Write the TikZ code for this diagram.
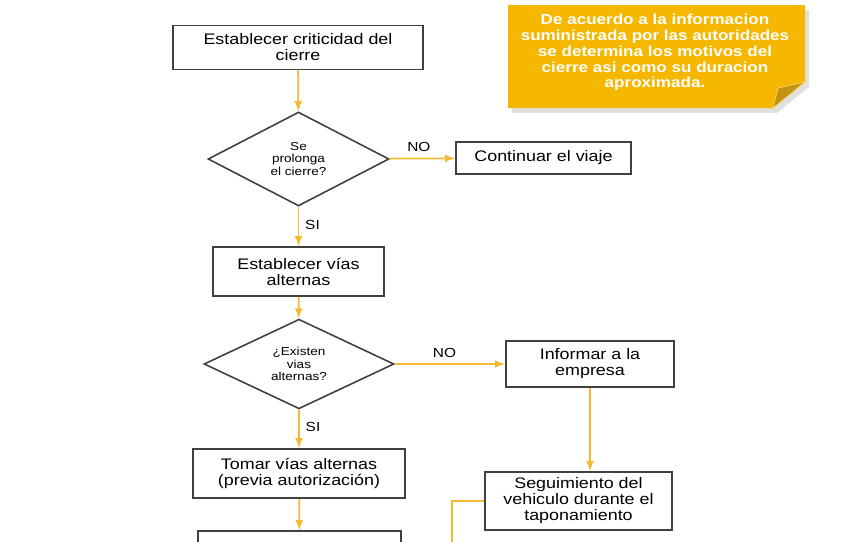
\documentclass[tikz,border=0pt]{standalone}
\usepackage{fontspec}
\setmainfont{Liberation Sans}[FakeStretch=1.17]
\usepackage{xcolor}
\usepackage{tikz}
\usetikzlibrary{arrows,shapes,positioning}

\definecolor{oro}{RGB}{242,186,50}
\definecolor{notafondo}{RGB}{245,183,0}
\definecolor{notadoblez}{RGB}{196,146,18}

\tikzset{
  paso/.style={draw=black!75,line width=0.9pt,align=center,inner sep=2pt,font=\fontsize{8.7}{9.1}\selectfont},
  pregunta/.style={diamond,draw=black!75,line width=0.9pt,align=center,inner sep=0pt,font=\fontsize{6.6}{7.2}\selectfont},
  flecha/.style={->,>=latex,draw=oro,line width=1pt},
  etiqueta/.style={font=\fontsize{7.5}{8}\selectfont},
}

\begin{document}
\begin{tikzpicture}

\useasboundingbox (0,0) rectangle (17.1,-10.82);

% nota amarilla
\fill[black!12] (10.24,-0.2) -- (16.18,-0.2) -- (16.18,-1.74) -- (15.54,-2.26) -- (10.24,-2.26) -- cycle;% sombra
\fill[notafondo] (10.16,-0.1) -- (16.1,-0.1) -- (16.1,-1.64) -- (15.46,-2.16) -- (10.16,-2.16) -- cycle;
\filldraw[fill=notadoblez,draw=notafondo!60,line width=0.4pt] (15.46,-2.16) -- (15.56,-1.76) -- (16.1,-1.64) -- cycle;% doblez
\node[text=white,align=center,font=\bfseries\fontsize{8.3}{9}\selectfont] (nota) at (13.1,-1.05) {De acuerdo a la informacion\\suministrada por las autoridades\\se determina los motivos del\\cierre asi como su duracion\\aproximada.};

% cajas y decisiones
\node[paso,minimum width=5cm,minimum height=0.88cm] (criticidad) at (5.96,-0.95) {Establecer criticidad del\\cierre};
\node[pregunta,minimum width=3.62cm,minimum height=1.88cm] (prolonga) at (5.97,-3.18) {Se\\prolonga\\el cierre?};
\node[paso,minimum width=3.5cm,minimum height=0.64cm] (continuar) at (10.87,-3.16) {Continuar el viaje};
\node[paso,minimum width=3.42cm,minimum height=0.98cm] (alternas) at (5.97,-5.43) {Establecer vías\\alternas};
\node[pregunta,minimum width=3.8cm,minimum height=1.56cm] (existen) at (5.98,-7.28) {¿Existen\\vias\\alternas?};
\node[paso,minimum width=3.36cm,minimum height=0.92cm] (informar) at (11.8,-7.28) {Informar a la\\empresa};
\node[paso,minimum width=4.24cm,minimum height=0.98cm] (tomar) at (5.98,-9.47) {Tomar vías alternas\\(previa autorización)};
\node[paso,minimum width=3.74cm,minimum height=1.16cm] (seguimiento) at (11.57,-10.02) {Seguimiento del\\vehiculo durante el\\taponamiento};
\node[paso,minimum width=4.06cm,minimum height=0.98cm] (siguiente) at (5.99,-11.11) {};

\coordinate (abajo) at (9.04,-11.2);

% conectores
\draw[flecha] (criticidad) -- (prolonga);
\draw[flecha] (prolonga) -- node[etiqueta,black,above,pos=0.45] {NO} (continuar);
\draw[flecha] (prolonga) -- node[etiqueta,black,right,pos=0.45] {SI} (alternas);
\draw[flecha] (alternas) -- (existen);
\draw[flecha] (existen) -- node[etiqueta,black,above,pos=0.45] {NO} (informar);
\draw[flecha] (existen) -- node[etiqueta,black,right,pos=0.45] {SI} (tomar);
\draw[flecha] (informar.south) -- (informar.south |- seguimiento.north);
\draw[flecha] (tomar) -- (siguiente);
\draw[draw=oro,line width=1pt] (seguimiento.west) -| (abajo);

\end{tikzpicture}
\end{document}
